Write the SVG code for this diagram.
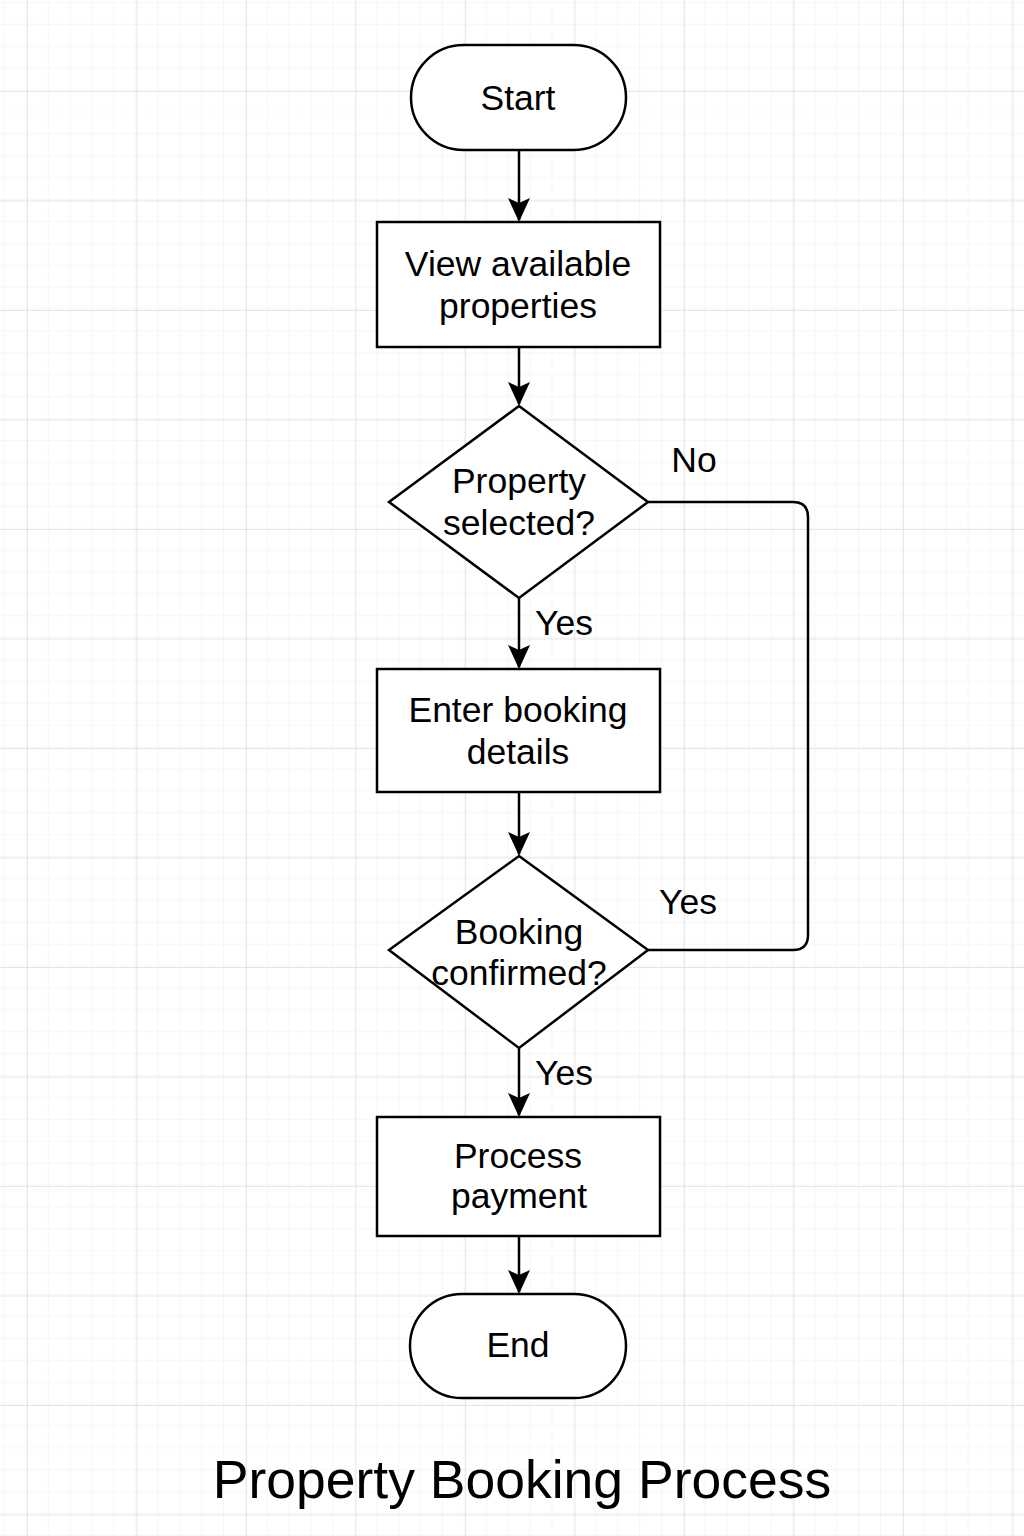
<svg xmlns="http://www.w3.org/2000/svg" width="1024" height="1536" viewBox="0 0 1024 1536">
<defs>
<pattern id="minor" x="5" y="3" width="21.9" height="21.9" patternUnits="userSpaceOnUse">
<path d="M21.9 0V21.9M0 21.9H21.9" fill="none" stroke="#f0f0f0" stroke-width="1.2"/>
</pattern>
<pattern id="major" x="27" y="91" width="109.5" height="109.5" patternUnits="userSpaceOnUse">
<path d="M0 0V109.5M0 0H109.5" fill="none" stroke="#dedede" stroke-width="1.4"/>
</pattern>
<marker id="arr" viewBox="0 0 24 24" refX="22" refY="12" markerWidth="24" markerHeight="24" markerUnits="userSpaceOnUse" orient="auto">
<path d="M0 1L24 12L0 23L5 12Z" fill="#000"/>
</marker>
</defs>
<style>
.shape{fill:#fff;stroke:#000;stroke-width:2.5}
.lbl{font-family:"Liberation Sans",Arial,sans-serif;font-size:35.5px;fill:#000;text-anchor:middle}
.edge{fill:none;stroke:#000;stroke-width:2.5}
.title{font-family:"Liberation Sans",Arial,sans-serif;font-size:53.5px;fill:#000;text-anchor:middle}
</style>
<rect width="1024" height="1536" fill="#fff"/>
<rect width="1024" height="1536" fill="url(#minor)"/>
<rect width="1024" height="1536" fill="url(#major)"/>
<g id="connectors">
<path class="edge" d="M519 150V220" marker-end="url(#arr)"/>
<path class="edge" d="M519 347V404" marker-end="url(#arr)"/>
<path class="edge" d="M519 598V667" marker-end="url(#arr)"/>
<path class="edge" d="M519 792V854" marker-end="url(#arr)"/>
<path class="edge" d="M519 1048V1115" marker-end="url(#arr)"/>
<path class="edge" d="M519 1236V1292" marker-end="url(#arr)"/>
<path class="edge" d="M648 502H793Q808 502 808 517V935Q808 950 793 950H648"/>
<text class="lbl" x="694" y="472">No</text>
<text class="lbl" x="688" y="914">Yes</text>
<text class="lbl" x="564" y="635">Yes</text>
<text class="lbl" x="564" y="1085">Yes</text>
</g>
<g id="start">
<rect class="shape" x="411" y="45" width="215" height="105" rx="52.5"/>
<text class="lbl" x="518" y="110">Start</text>
</g>
<g id="view">
<rect class="shape" x="377" y="222" width="283" height="125"/>
<text class="lbl" x="518" y="276">View available</text>
<text class="lbl" x="518" y="318">properties</text>
</g>
<g id="selected">
<polygon class="shape" points="519,406 648,502 519,598 389,502"/>
<text class="lbl" x="519" y="493">Property</text>
<text class="lbl" x="519" y="535">selected?</text>
</g>
<g id="enter">
<rect class="shape" x="377" y="669" width="283" height="123"/>
<text class="lbl" x="518" y="722">Enter booking</text>
<text class="lbl" x="518" y="764">details</text>
</g>
<g id="confirmed">
<polygon class="shape" points="519,856 648,950 519,1048 389,950"/>
<text class="lbl" x="519" y="944">Booking</text>
<text class="lbl" x="519" y="985">confirmed?</text>
</g>
<g id="payment">
<rect class="shape" x="377" y="1117" width="283" height="119"/>
<text class="lbl" x="518" y="1168">Process</text>
<text class="lbl" x="519" y="1208">payment</text>
</g>
<g id="end">
<rect class="shape" x="410" y="1294" width="216" height="104" rx="52"/>
<text class="lbl" x="518" y="1357">End</text>
</g>
<text class="title" x="522" y="1498">Property Booking Process</text>
</svg>
